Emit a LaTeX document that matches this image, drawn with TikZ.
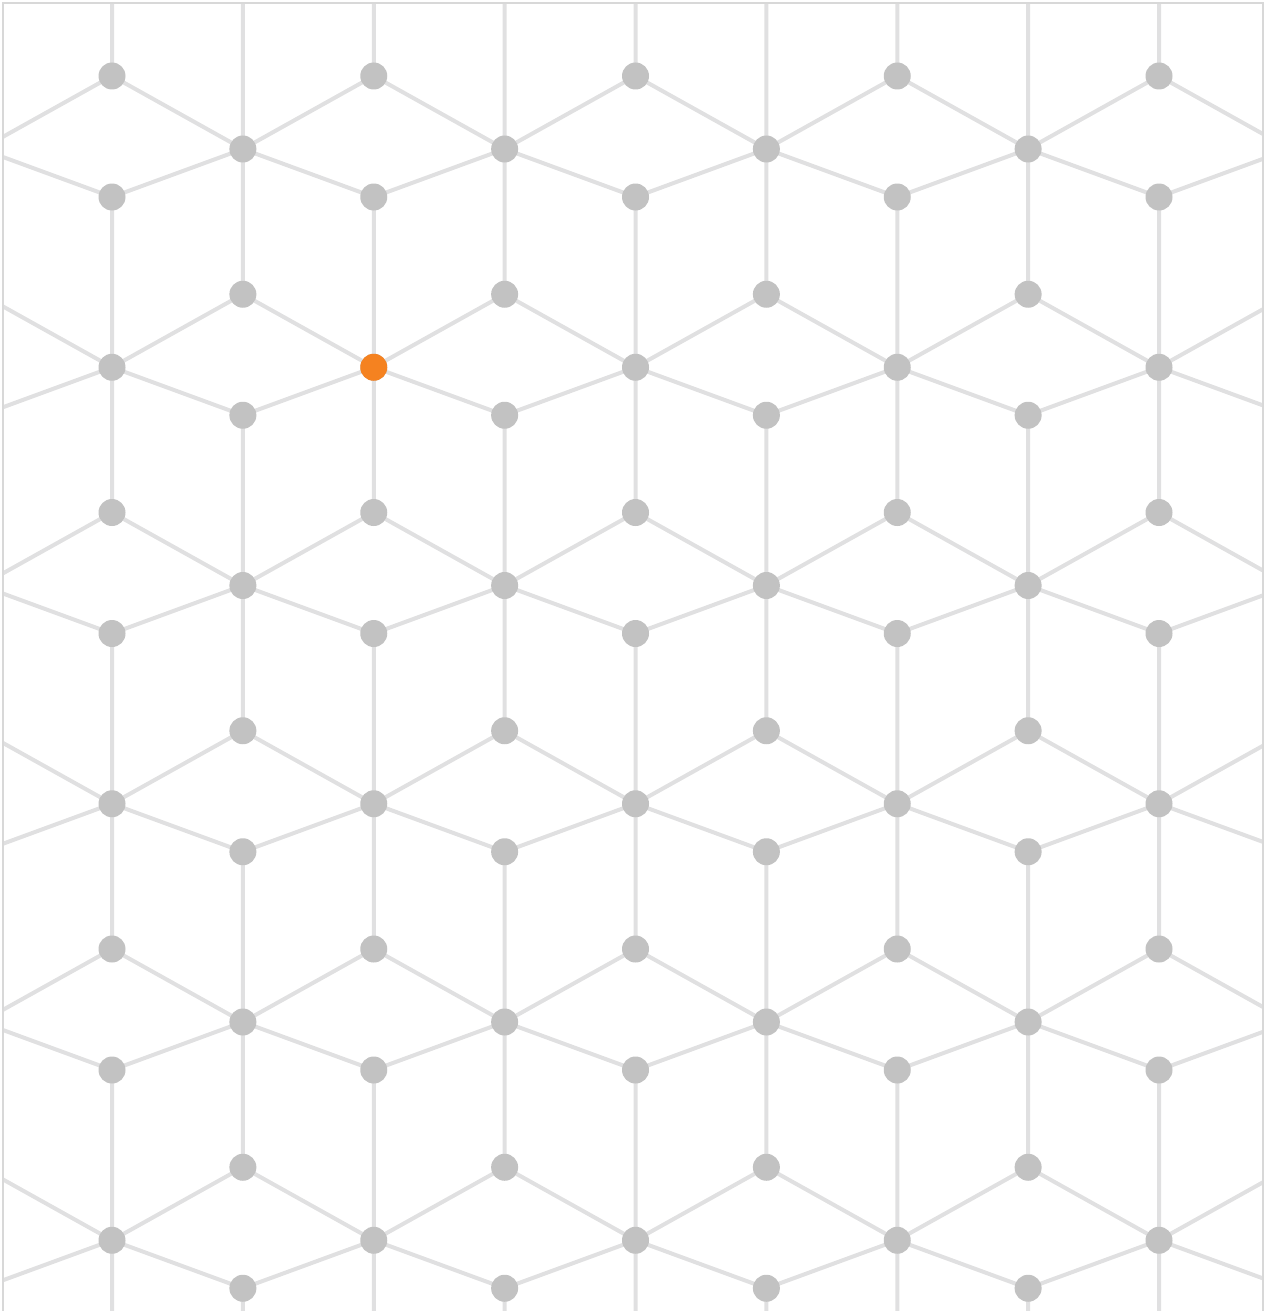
\documentclass[tikz,border=0pt]{standalone}
\usepackage{tikz}
\usepackage{xcolor}
\definecolor{latEdge}{RGB}{224,224,225}
\definecolor{latDot}{RGB}{194,194,194}
\definecolor{latFrame}{RGB}{216,216,216}
\definecolor{latOrange}{RGB}{245,130,32}

\begin{document}
\begin{tikzpicture}[x=1pt,y=-1pt,
  edge/.style={latEdge,line width=4pt},
  dot/.style={circle,fill=latDot,inner sep=0pt,minimum size=27pt}]
  \useasboundingbox (0,0) rectangle (1266,1311);
  \begin{scope}
    \clip (3,3) rectangle (1263,1311);
    % lattice points: A top, B middle, C bottom of each cell
    \foreach \i in {-2,...,10} {
      \foreach \k in {-2,...,7} {
        \pgfmathtruncatemacro\odd{mod(\i+\k+20,2)}
        \ifnum\odd=1
          \coordinate (B-\i-\k) at ({112+130.875*\i},{149+218.25*\k});
        \else
          \coordinate (A-\i-\k) at ({112+130.875*\i},{76+218.25*\k});
          \coordinate (C-\i-\k) at ({112+130.875*\i},{197+218.25*\k});
        \fi
      }
    }
    % every edge ends at a B point
    \foreach \i in {-1,...,9} {
      \foreach \k in {-1,...,6} {
        \pgfmathtruncatemacro\odd{mod(\i+\k+20,2)}
        \ifnum\odd=1
          \pgfmathtruncatemacro\il{\i-1}
          \pgfmathtruncatemacro\ir{\i+1}
          \pgfmathtruncatemacro\kn{\k+1}
          \pgfmathtruncatemacro\kp{\k-1}
          \draw[edge] (B-\i-\k) -- (A-\il-\k) (B-\i-\k) -- (A-\ir-\k)
            (B-\i-\k) -- (C-\il-\k) (B-\i-\k) -- (C-\ir-\k)
            (B-\i-\k) -- (A-\i-\kn) (B-\i-\k) -- (C-\i-\kp);
        \fi
      }
    }
    \foreach \i in {0,...,8} {
      \foreach \k in {0,...,5} {
        \pgfmathtruncatemacro\odd{mod(\i+\k+20,2)}
        \ifnum\odd=1
          \node[dot] (b\i\k) at (B-\i-\k) {};
        \else
          \node[dot] (a\i\k) at (A-\i-\k) {};
          \node[dot] (c\i\k) at (C-\i-\k) {};
        \fi
      }
    }
    \node[dot,fill=latOrange] (hl) at (B-2-1) {};
  \end{scope}
  \draw[latFrame,line width=2pt] (3,1311) -- (3,3) -- (1263,3) -- (1263,1311);
\end{tikzpicture}
\end{document}
